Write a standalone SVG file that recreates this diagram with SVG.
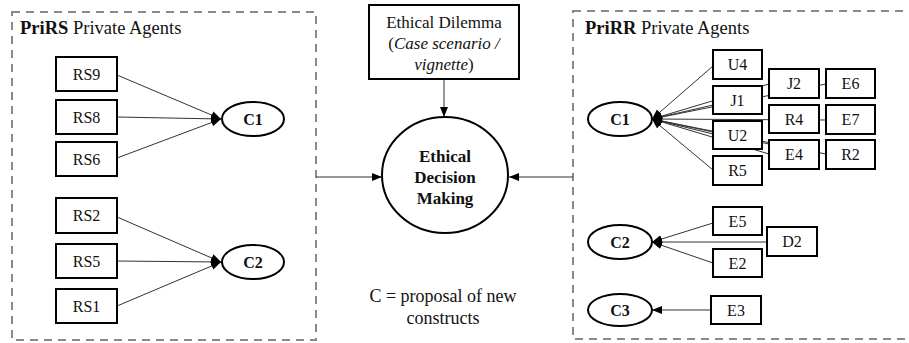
<svg xmlns="http://www.w3.org/2000/svg" width="909" height="343" viewBox="0 0 909 343">
<style>
.grp{fill:none;stroke:#8a8a8a;stroke-width:2;stroke-dasharray:8 6}
.box{fill:#fff;stroke:#000;stroke-width:2}
.ell{fill:#fff;stroke:#000;stroke-width:2}
.ln{stroke:#333;stroke-width:1;fill:none}
text{font-family:'Liberation Serif','Times New Roman','DejaVu Serif',serif;fill:#111}
.t{font-size:16px;text-anchor:middle}
.t.s17{font-size:17px}
.t.s18{font-size:18px}
.b{font-weight:bold}
.i{font-style:italic}
.ttl{font-size:18.5px}
</style>
<defs>
<marker id="ah" markerUnits="userSpaceOnUse" markerWidth="10" markerHeight="10" viewBox="0 0 10 10" refX="10" refY="5" orient="auto">
<path d="M0,1 L10,5 L0,9 Z" fill="#000"/>
</marker>
</defs>
<g id="groups">
<rect class="grp" x="12" y="12" width="304" height="328"/>
<rect class="grp" x="573" y="11" width="345" height="328"/>
<text class="ttl" x="20" y="34"><tspan class="b">PriRS</tspan> Private Agents</text>
<text class="ttl" x="585" y="34"><tspan class="b">PriRR</tspan> Private Agents</text>
</g>
<g id="connectors">
<line class="ln" x1="117" y1="75" x2="221" y2="119" marker-end="url(#ah)"/>
<line class="ln" x1="117" y1="117" x2="221" y2="119" marker-end="url(#ah)"/>
<line class="ln" x1="117" y1="158" x2="221" y2="119" marker-end="url(#ah)"/>
<line class="ln" x1="117" y1="217" x2="221" y2="262" marker-end="url(#ah)"/>
<line class="ln" x1="117" y1="261" x2="221" y2="262" marker-end="url(#ah)"/>
<line class="ln" x1="117" y1="306" x2="221" y2="262" marker-end="url(#ah)"/>
<line class="ln" x1="444" y1="79" x2="444" y2="117" marker-end="url(#ah)"/>
<line class="ln" x1="316" y1="177" x2="382" y2="177" marker-end="url(#ah)"/>
<line class="ln" x1="573" y1="177" x2="509" y2="177" marker-end="url(#ah)"/>
<line class="ln" x1="713" y1="66" x2="652" y2="119" marker-end="url(#ah)"/>
<line class="ln" x1="769" y1="84" x2="652" y2="119" marker-end="url(#ah)"/>
<line class="ln" x1="713" y1="105" x2="652" y2="119" marker-end="url(#ah)"/>
<line class="ln" x1="826" y1="84" x2="652" y2="119" marker-end="url(#ah)"/>
<line class="ln" x1="826" y1="120" x2="652" y2="119" marker-end="url(#ah)"/>
<line class="ln" x1="713" y1="134" x2="652" y2="119" marker-end="url(#ah)"/>
<line class="ln" x1="769" y1="144" x2="652" y2="119" marker-end="url(#ah)"/>
<line class="ln" x1="769" y1="154" x2="652" y2="119" marker-end="url(#ah)"/>
<line class="ln" x1="826" y1="154" x2="652" y2="119" marker-end="url(#ah)"/>
<line class="ln" x1="713" y1="170" x2="652" y2="119" marker-end="url(#ah)"/>
<line class="ln" x1="713" y1="223" x2="652" y2="242" marker-end="url(#ah)"/>
<line class="ln" x1="767" y1="242" x2="652" y2="242" marker-end="url(#ah)"/>
<line class="ln" x1="713" y1="263" x2="652" y2="242" marker-end="url(#ah)"/>
<line class="ln" x1="711" y1="310" x2="652" y2="310" marker-end="url(#ah)"/>
</g>
<g id="RS9"><rect class="box" x="56" y="57" width="61" height="34"/><text class="t" x="86.5" y="80">RS9</text></g>
<g id="RS8"><rect class="box" x="56" y="100" width="61" height="34"/><text class="t" x="86.5" y="123">RS8</text></g>
<g id="RS6"><rect class="box" x="56" y="142" width="61" height="34"/><text class="t" x="86.5" y="165">RS6</text></g>
<g id="RS2"><rect class="box" x="56" y="198" width="61" height="35"/><text class="t" x="86.5" y="221">RS2</text></g>
<g id="RS5"><rect class="box" x="56" y="244" width="61" height="34"/><text class="t" x="86.5" y="267">RS5</text></g>
<g id="RS1"><rect class="box" x="56" y="289" width="61" height="34"/><text class="t" x="86.5" y="312">RS1</text></g>
<g id="L-C1"><ellipse class="ell" cx="253" cy="119" rx="31" ry="17"/><text class="t b" x="253" y="124.5">C1</text></g>
<g id="L-C2"><ellipse class="ell" cx="253" cy="262" rx="31" ry="17"/><text class="t b" x="253" y="267.5">C2</text></g>
<g id="dilemma"><rect class="box" x="369" y="5" width="150" height="74"/>
<text class="t s17" x="444" y="28">Ethical Dilemma</text>
<text class="t s17" x="444" y="49">(<tspan class="i">Case scenario /</tspan></text>
<text class="t s17" x="444" y="70"><tspan class="i">vignette</tspan>)</text></g>
<g id="edm"><ellipse class="ell" cx="445" cy="175" rx="63" ry="58"/>
<text class="t s17 b" x="445" y="162">Ethical</text>
<text class="t s17 b" x="445" y="183">Decision</text>
<text class="t s17 b" x="445" y="204">Making</text></g>
<g id="legend"><text class="t s18" x="443" y="302">C = proposal of new</text><text class="t s18" x="443" y="324">constructs</text></g>
<g id="R-C1"><ellipse class="ell" cx="620" cy="119" rx="32" ry="17"/><text class="t b" x="620" y="124.5">C1</text></g>
<g id="R-C2"><ellipse class="ell" cx="620" cy="242" rx="32" ry="17"/><text class="t b" x="620" y="247.5">C2</text></g>
<g id="R-C3"><ellipse class="ell" cx="620" cy="310" rx="32" ry="16"/><text class="t b" x="620" y="315.5">C3</text></g>
<g id="U4"><rect class="box" x="713" y="50" width="49" height="29"/><text class="t" x="737.5" y="70">U4</text></g>
<g id="J1"><rect class="box" x="713" y="86" width="49" height="28"/><text class="t" x="737.5" y="105.5">J1</text></g>
<g id="U2"><rect class="box" x="713" y="121" width="49" height="28"/><text class="t" x="737.5" y="140.5">U2</text></g>
<g id="R5"><rect class="box" x="713" y="156" width="49" height="29"/><text class="t" x="737.5" y="176">R5</text></g>
<g id="J2"><rect class="box" x="769" y="69" width="50" height="29"/><text class="t" x="794" y="89">J2</text></g>
<g id="E6"><rect class="box" x="826" y="69" width="49" height="29"/><text class="t" x="850.5" y="89">E6</text></g>
<g id="R4"><rect class="box" x="769" y="105" width="50" height="28"/><text class="t" x="794" y="124.5">R4</text></g>
<g id="E7"><rect class="box" x="826" y="105" width="49" height="29"/><text class="t" x="850.5" y="125">E7</text></g>
<g id="E4"><rect class="box" x="769" y="140" width="50" height="29"/><text class="t" x="794" y="160">E4</text></g>
<g id="R2"><rect class="box" x="826" y="140" width="49" height="29"/><text class="t" x="850.5" y="160">R2</text></g>
<g id="E5"><rect class="box" x="713" y="207" width="49" height="28"/><text class="t" x="737.5" y="226.5">E5</text></g>
<g id="D2"><rect class="box" x="767" y="227" width="50" height="29"/><text class="t" x="792" y="247">D2</text></g>
<g id="E2"><rect class="box" x="713" y="249" width="49" height="28"/><text class="t" x="737.5" y="268.5">E2</text></g>
<g id="E3"><rect class="box" x="711" y="296" width="50" height="28"/><text class="t" x="736" y="315.5">E3</text></g>
</svg>
